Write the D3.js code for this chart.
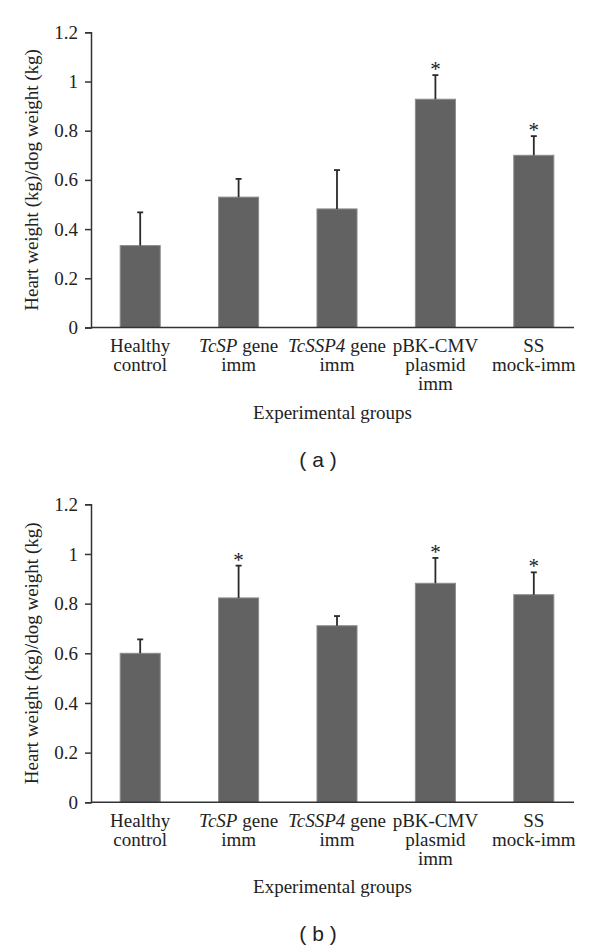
<!DOCTYPE html>
<html>
<head>
<meta charset="utf-8">
<script src="https://cdn.jsdelivr.net/npm/d3@7"></script>
<style>
  html, body { margin: 0; padding: 0; background: #fff; }
  svg { display: block; }
  text { font-family: "Liberation Serif", "DejaVu Serif", serif; fill: #222; }
</style>
</head>
<body>
<svg id="chart" width="600" height="949"></svg>
<script>
// ---- data ----
const categories = ["Healthy control", "TcSP gene imm", "TcSSP4 gene imm", "pBK-CMV plasmid imm", "SS mock-imm"];
// label lines; italic flag per piece
const categoryLines = [
  [[["Healthy", false]], [["control", false]]],
  [[["TcSP", true], [" gene", false]], [["imm", false]]],
  [[["TcSSP4", true], [" gene", false]], [["imm", false]]],
  [[["pBK-CMV", false]], [["plasmid", false]], [["imm", false]]],
  [[["SS", false]], [["mock-imm", false]]]
];
const valuesA = [0.333, 0.530, 0.482, 0.928, 0.700];
const errorsA = [0.135, 0.074, 0.158, 0.098, 0.078];
const signifA = [false, false, false, true, true];
const valuesB = [0.600, 0.823, 0.711, 0.882, 0.836];
const errorsB = [0.056, 0.130, 0.039, 0.102, 0.090];
const signifB = [false, true, false, true, true];
const tickValues = [0, 0.2, 0.4, 0.6, 0.8, 1.0, 1.2];
const tickLabels = ["0", "0.2", "0.4", "0.6", "0.8", "1", "1.2"];
const yTitle = "Heart weight (kg)/dog weight (kg)";
const xTitle = "Experimental groups";
const panelLabels = ["( a )", "( b )"];

const svg = d3.select("#chart");
const SERIF = "'Liberation Serif', 'DejaVu Serif', serif";

function drawPanel(values, errors, signif, y0, y1, panelLabel) {
  const g = svg.append("g");
  const x = d3.scaleBand().domain(categories).range([91, 583])
    .paddingInner(0.593).paddingOuter(0.2965);
  const y = d3.scaleLinear().domain([0, 1.2]).range([y0, y1]);
  const axisX0 = 91, axisX1 = 574;

  // bars
  g.selectAll("rect.bar").data(categories).enter().append("rect")
    .attr("x", d => x(d))
    .attr("width", x.bandwidth())
    .attr("y", (d, i) => y(values[i]))
    .attr("height", (d, i) => y(0) - y(values[i]))
    .attr("fill", "#626262")
    .attr("stroke", "#8c8c8c")
    .attr("stroke-width", 1);

  // error bars
  const eb = g.selectAll("g.err").data(categories).enter().append("g");
  eb.append("line")
    .attr("x1", d => x(d) + x.bandwidth() / 2)
    .attr("x2", d => x(d) + x.bandwidth() / 2)
    .attr("y1", (d, i) => y(values[i]))
    .attr("y2", (d, i) => y(values[i] + errors[i]))
    .attr("stroke", "#2a2a2a").attr("stroke-width", 1.8);
  eb.append("line")
    .attr("x1", d => x(d) + x.bandwidth() / 2 - 3)
    .attr("x2", d => x(d) + x.bandwidth() / 2 + 3)
    .attr("y1", (d, i) => y(values[i] + errors[i]))
    .attr("y2", (d, i) => y(values[i] + errors[i]))
    .attr("stroke", "#2a2a2a").attr("stroke-width", 1.8);

  // significance asterisks
  g.selectAll("text.sig").data(categories.filter((d, i) => signif[i])).enter().append("text")
    .attr("x", d => x(d) + x.bandwidth() / 2)
    .attr("y", d => { const i = categories.indexOf(d); return y(values[i] + errors[i]) + 1; })
    .attr("text-anchor", "middle")
    .attr("font-size", 21)
    .text("*");

  // y axis
  const yAxis = d3.axisLeft(y).tickValues(tickValues)
    .tickFormat((d, i) => tickLabels[i]).tickSize(6).tickPadding(7);
  const ya = g.append("g").attr("transform", `translate(${axisX0},0)`).call(yAxis);
  ya.attr("font-family", null).attr("font-size", null);
  ya.select(".domain").attr("stroke", "#333").attr("stroke-width", 1.5);
  ya.selectAll(".tick line").attr("stroke", "#333").attr("stroke-width", 1.5);
  ya.selectAll(".tick text").style("font-size", "19px")
    .style("font-family", SERIF).attr("fill", "#222");

  // x axis line
  g.append("line").attr("x1", axisX0).attr("x2", axisX1)
    .attr("y1", y(0)).attr("y2", y(0))
    .attr("stroke", "#333").attr("stroke-width", 1.5);

  // category labels
  categories.forEach((c, i) => {
    const cx = x(c) + x.bandwidth() / 2;
    categoryLines[i].forEach((line, li) => {
      const t = g.append("text")
        .attr("x", cx).attr("y", y(0) + 24.4 + li * 19)
        .attr("text-anchor", "middle").attr("font-size", 19);
      line.forEach(([s, it]) => {
        t.append("tspan").attr("font-style", it ? "italic" : "normal").text(s);
      });
    });
  });

  // x title
  g.append("text").attr("x", (axisX0 + axisX1) / 2).attr("y", y(0) + 91)
    .attr("text-anchor", "middle").attr("font-size", 19).text(xTitle);

  // y title
  g.append("text")
    .attr("transform", `translate(38,${(y0 + y1) / 2}) rotate(-90)`)
    .attr("text-anchor", "middle").attr("font-size", 19).text(yTitle);

  // panel label
  g.append("text").attr("x", 318).attr("y", y(0) + 139)
    .attr("text-anchor", "middle").attr("font-size", 21)
    .style("font-family", "'Liberation Sans', Arial, sans-serif")
    .attr("xml:space", "preserve")
    .text(panelLabel);
}

drawPanel(valuesA, errorsA, signifA, 327.5, 32.3, panelLabels[0]);
drawPanel(valuesB, errorsB, signifB, 802.3, 504.3, panelLabels[1]);
</script>
</body>
</html>
